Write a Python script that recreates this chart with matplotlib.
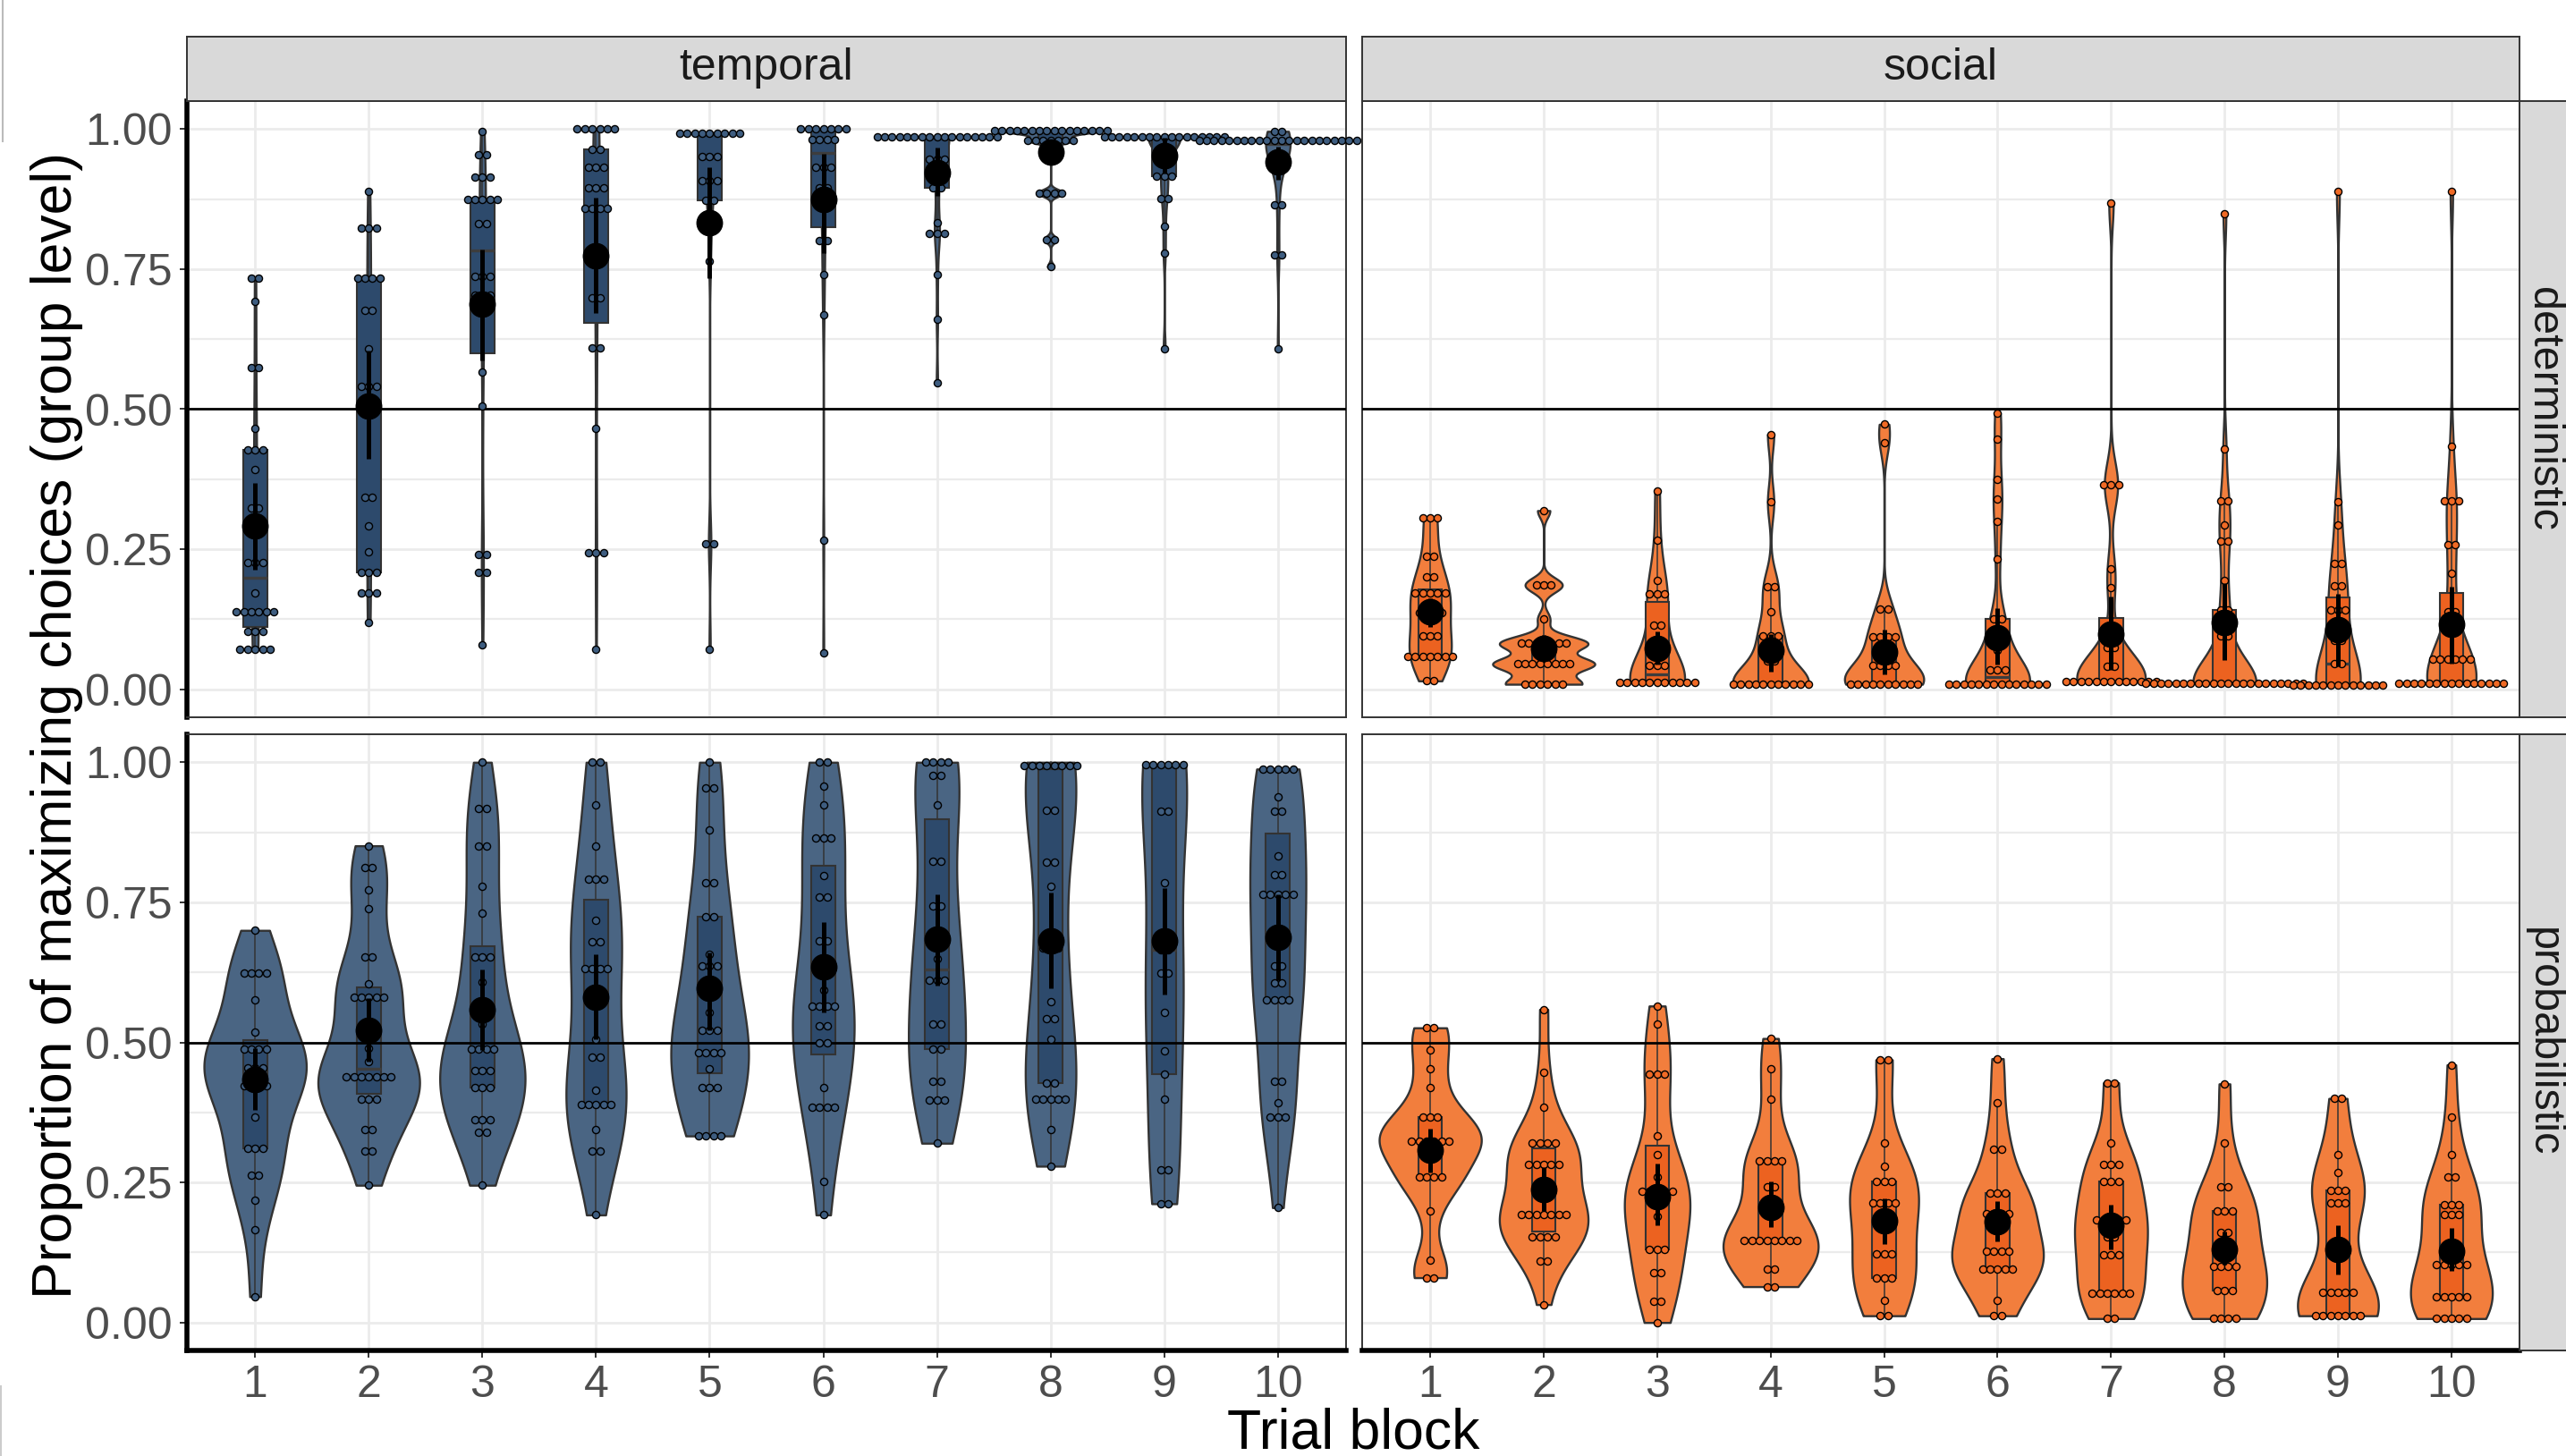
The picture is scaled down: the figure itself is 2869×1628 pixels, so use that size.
import numpy as np
import matplotlib
matplotlib.use("Agg")
import matplotlib.pyplot as plt
from matplotlib.lines import Line2D

plt.rcParams["font.family"] = ["Liberation Sans", "DejaVu Sans"]

W, H, DPI = 2869, 1628, 100

BLOCKS = list(range(1, 11))
Y_TICKS = [0.0, 0.25, 0.5, 0.75, 1.0]
Y_TICK_LABELS = ["0.00", "0.25", "0.50", "0.75", "1.00"]
COLS = ["temporal", "social"]
ROWS = ["deterministic", "probabilistic"]

# ── per-participant proportions, one list per trial block ────────────────────
TEMPORAL_DET = [
    [0.734, 0.734, 0.693, 0.574, 0.574, 0.466, 0.427, 0.427, 0.427, 0.392, 0.323, 0.323,
     0.226, 0.226, 0.226, 0.172, 0.139, 0.139, 0.139, 0.139, 0.139, 0.139,
     0.103, 0.103, 0.103, 0.072, 0.072, 0.072, 0.072, 0.072],
    [0.888, 0.824, 0.824, 0.824, 0.734, 0.734, 0.734, 0.734, 0.677, 0.677, 0.607,
     0.541, 0.541, 0.541, 0.343, 0.343, 0.292, 0.246, 0.209, 0.209, 0.209,
     0.172, 0.172, 0.172, 0.119],
    [0.996, 0.955, 0.955, 0.915, 0.915, 0.915, 0.875, 0.875, 0.875, 0.875, 0.875,
     0.831, 0.831, 0.737, 0.737, 0.737, 0.704, 0.704, 0.704, 0.566, 0.506,
     0.240, 0.240, 0.209, 0.209, 0.079],
    [1.0, 1.0, 1.0, 1.0, 1.0, 1.0, 0.963, 0.963, 0.932, 0.932, 0.932, 0.895, 0.895, 0.895,
     0.858, 0.858, 0.858, 0.858, 0.698, 0.698, 0.610, 0.610, 0.466,
     0.244, 0.244, 0.244, 0.072],
    [0.992, 0.992, 0.992, 0.992, 0.992, 0.992, 0.992, 0.992, 0.992, 0.951, 0.951, 0.951,
     0.908, 0.908, 0.908, 0.872, 0.872, 0.820, 0.764, 0.260, 0.260, 0.072],
    [1.0, 1.0, 1.0, 1.0, 1.0, 1.0, 1.0, 0.982, 0.982, 0.982, 0.982, 0.932, 0.932, 0.932,
     0.895, 0.895, 0.801, 0.801, 0.741, 0.668, 0.266, 0.065],
    [0.986, 0.986, 0.986, 0.986, 0.986, 0.986, 0.986, 0.986, 0.986, 0.986, 0.986, 0.986,
     0.986, 0.986, 0.986, 0.986, 0.986, 0.947, 0.947, 0.947, 0.895, 0.895, 0.833,
     0.813, 0.813, 0.813, 0.740, 0.660, 0.547],
    [0.998, 0.998, 0.998, 0.998, 0.998, 0.998, 0.998, 0.998, 0.998, 0.998, 0.998, 0.998,
     0.998, 0.998, 0.998, 0.998, 0.980, 0.980, 0.980, 0.980, 0.980, 0.980, 0.980,
     0.886, 0.886, 0.886, 0.886, 0.803, 0.803, 0.754],
    [0.986, 0.986, 0.986, 0.986, 0.986, 0.986, 0.986, 0.986, 0.986, 0.986, 0.986, 0.986,
     0.986, 0.986, 0.986, 0.986, 0.986, 0.916, 0.916, 0.916, 0.876, 0.876, 0.826, 0.779,
     0.607],
    [0.996, 0.996, 0.985, 0.985, 0.985, 0.985, 0.973, 0.973, 0.973, 0.973, 0.973, 0.973,
     0.973, 0.973, 0.973, 0.973, 0.973, 0.973, 0.973, 0.973, 0.973, 0.973, 0.973, 0.973,
     0.934, 0.934, 0.865, 0.865, 0.776, 0.776, 0.607],
]

SOCIAL_DET = [
    [0.306, 0.306, 0.306, 0.238, 0.238, 0.200, 0.200, 0.172, 0.172, 0.172, 0.172, 0.172,
     0.136, 0.136, 0.136, 0.136, 0.095, 0.095, 0.095, 0.059, 0.059, 0.059, 0.059, 0.059,
     0.059, 0.059, 0.015, 0.015],
    [0.319, 0.186, 0.186, 0.186, 0.125, 0.082, 0.082, 0.082, 0.082, 0.082, 0.082, 0.082,
     0.045, 0.045, 0.045, 0.045, 0.045, 0.045, 0.045, 0.045,
     0.009, 0.009, 0.009, 0.009, 0.009, 0.009],
    [0.354, 0.266, 0.194, 0.170, 0.170, 0.170, 0.115, 0.115, 0.042, 0.042, 0.042,
     0.012, 0.012, 0.012, 0.012, 0.012, 0.012, 0.012, 0.012, 0.012, 0.012, 0.012],
    [0.455, 0.334, 0.183, 0.183, 0.139, 0.095, 0.095, 0.095, 0.051, 0.051,
     0.009, 0.009, 0.009, 0.009, 0.009, 0.009, 0.009, 0.009, 0.009, 0.009, 0.009],
    [0.473, 0.440, 0.143, 0.143, 0.093, 0.093, 0.093, 0.093, 0.042, 0.042, 0.042, 0.042,
     0.009, 0.009, 0.009, 0.009, 0.009, 0.009, 0.009, 0.009, 0.009, 0.009],
    [0.493, 0.446, 0.374, 0.339, 0.299, 0.233, 0.125, 0.125, 0.100, 0.090, 0.070,
     0.034, 0.034, 0.034, 0.009, 0.009, 0.009, 0.009, 0.009, 0.009, 0.009, 0.009,
     0.009, 0.009, 0.009, 0.009, 0.009, 0.009],
    [0.868, 0.365, 0.365, 0.365, 0.215, 0.182, 0.074, 0.074, 0.041, 0.041,
     0.014, 0.014, 0.014, 0.014, 0.014, 0.014, 0.014, 0.014, 0.014, 0.014, 0.014, 0.014,
     0.014],
    [0.849, 0.429, 0.337, 0.337, 0.294, 0.264, 0.264, 0.195, 0.142, 0.142,
     0.095, 0.095, 0.011, 0.011, 0.011, 0.011, 0.011, 0.011, 0.011, 0.011, 0.011, 0.011,
     0.011, 0.011, 0.011, 0.011, 0.011, 0.011, 0.011, 0.011, 0.011, 0.011, 0.011, 0.011],
    [0.888, 0.335, 0.294, 0.224, 0.224, 0.185, 0.185, 0.142, 0.142, 0.142, 0.088, 0.088,
     0.046, 0.046, 0.008, 0.008, 0.008, 0.008, 0.008, 0.008, 0.008, 0.008, 0.008, 0.008,
     0.008, 0.008, 0.008],
    [0.888, 0.434, 0.337, 0.337, 0.337, 0.258, 0.258, 0.207, 0.138, 0.138,
     0.054, 0.054, 0.054, 0.054, 0.054, 0.054,
     0.011, 0.011, 0.011, 0.011, 0.011, 0.011, 0.011, 0.011, 0.011, 0.011, 0.011, 0.011,
     0.011, 0.011, 0.011],
]

TEMPORAL_PROB = [
    [0.700, 0.624, 0.624, 0.624, 0.624, 0.576, 0.519, 0.488, 0.488, 0.488, 0.488,
     0.455, 0.455, 0.455, 0.423, 0.423, 0.423, 0.423, 0.366, 0.311, 0.311, 0.311,
     0.263, 0.263, 0.219, 0.166, 0.046],
    [0.851, 0.812, 0.812, 0.773, 0.738, 0.652, 0.652, 0.604, 0.581, 0.581, 0.581, 0.581,
     0.581, 0.489, 0.466, 0.439, 0.439, 0.439, 0.439, 0.439, 0.439, 0.439,
     0.398, 0.398, 0.398, 0.345, 0.345, 0.306, 0.306, 0.245],
    [1.0, 0.918, 0.918, 0.851, 0.851, 0.778, 0.731, 0.652, 0.652, 0.652, 0.608, 0.532,
     0.488, 0.488, 0.488, 0.488, 0.449, 0.449, 0.449, 0.419, 0.419, 0.419,
     0.362, 0.362, 0.362, 0.339, 0.339, 0.245],
    [1.0, 1.0, 0.924, 0.851, 0.791, 0.791, 0.791, 0.718, 0.679, 0.679, 0.632, 0.632,
     0.632, 0.632, 0.505, 0.473, 0.473, 0.414, 0.389, 0.389, 0.389, 0.389, 0.389,
     0.345, 0.306, 0.306, 0.192],
    [1.0, 0.955, 0.955, 0.879, 0.785, 0.785, 0.725, 0.725, 0.657, 0.636, 0.636, 0.636,
     0.554, 0.522, 0.522, 0.522, 0.482, 0.482, 0.482, 0.482, 0.453, 0.419, 0.419, 0.419,
     0.333, 0.333, 0.333, 0.333],
    [1.0, 1.0, 0.957, 0.924, 0.865, 0.865, 0.865, 0.798, 0.759, 0.759, 0.682, 0.682,
     0.593, 0.565, 0.565, 0.565, 0.565, 0.530, 0.530, 0.499, 0.499, 0.419,
     0.385, 0.385, 0.385, 0.385, 0.252, 0.192],
    [1.0, 1.0, 1.0, 1.0, 0.977, 0.977, 0.924, 0.824, 0.824, 0.744, 0.744, 0.680, 0.650,
     0.611, 0.611, 0.611, 0.533, 0.533, 0.488, 0.488, 0.431, 0.431, 0.397, 0.397, 0.397,
     0.320],
    [1.0, 1.0, 1.0, 0.988, 0.988, 0.988, 0.988, 0.988, 0.915, 0.915, 0.821, 0.821, 0.778,
     0.668, 0.668, 0.668, 0.572, 0.542, 0.542, 0.506, 0.428, 0.428,
     0.398, 0.398, 0.398, 0.398, 0.398, 0.345, 0.279],
    [0.996, 0.996, 0.996, 0.996, 0.996, 0.996, 0.912, 0.912, 0.785, 0.665, 0.665,
     0.623, 0.623, 0.553, 0.485, 0.444, 0.398, 0.272, 0.272, 0.212, 0.212],
    [0.988, 0.988, 0.988, 0.988, 0.988, 0.938, 0.912, 0.912, 0.833, 0.800, 0.800,
     0.765, 0.765, 0.765, 0.765, 0.765, 0.636, 0.636, 0.606, 0.606,
     0.576, 0.576, 0.576, 0.576, 0.431, 0.431, 0.392, 0.366, 0.366, 0.366, 0.205],
]

SOCIAL_PROB = [
    [0.526, 0.526, 0.487, 0.453, 0.419, 0.366, 0.366, 0.366, 0.323, 0.323, 0.323, 0.323,
     0.323, 0.323, 0.259, 0.259, 0.259, 0.259, 0.199, 0.112, 0.080, 0.080],
    [0.559, 0.446, 0.385, 0.320, 0.320, 0.320, 0.320, 0.282, 0.282, 0.282, 0.282, 0.282,
     0.192, 0.192, 0.192, 0.192, 0.192, 0.192, 0.192, 0.153, 0.153, 0.153, 0.153,
     0.109, 0.109, 0.032],
    [0.565, 0.532, 0.444, 0.444, 0.444, 0.333, 0.299, 0.260, 0.240, 0.227, 0.227, 0.227,
     0.227, 0.210, 0.190, 0.131, 0.131, 0.131, 0.089, 0.089, 0.038, 0.038, 0.0],
    [0.507, 0.453, 0.398, 0.289, 0.289, 0.289, 0.289, 0.242, 0.242,
     0.146, 0.146, 0.146, 0.146, 0.146, 0.146, 0.146, 0.146, 0.096, 0.096, 0.064, 0.064],
    [0.469, 0.469, 0.320, 0.279, 0.252, 0.252, 0.252, 0.213, 0.213, 0.213, 0.213,
     0.122, 0.122, 0.122, 0.080, 0.080, 0.080, 0.039, 0.012, 0.012],
    [0.471, 0.392, 0.309, 0.309, 0.231, 0.231, 0.231, 0.195, 0.195, 0.195, 0.195,
     0.128, 0.128, 0.128, 0.128, 0.096, 0.096, 0.096, 0.096, 0.096, 0.039, 0.012, 0.012],
    [0.428, 0.428, 0.320, 0.282, 0.282, 0.282, 0.252, 0.252, 0.252, 0.183, 0.183, 0.183,
     0.183, 0.183, 0.153, 0.153, 0.121, 0.121, 0.121, 0.052, 0.052, 0.052, 0.052, 0.052,
     0.052, 0.007, 0.007],
    [0.426, 0.320, 0.242, 0.242, 0.199, 0.199, 0.199, 0.160, 0.160, 0.100, 0.100, 0.100,
     0.100, 0.057, 0.057, 0.057, 0.007, 0.007, 0.007, 0.007],
    [0.400, 0.400, 0.300, 0.267, 0.236, 0.236, 0.236, 0.213, 0.213, 0.213,
     0.053, 0.053, 0.053, 0.053, 0.053, 0.012, 0.012, 0.012, 0.012, 0.012, 0.012, 0.012],
    [0.460, 0.367, 0.300, 0.259, 0.259, 0.210, 0.210, 0.210, 0.192, 0.192, 0.192,
     0.104, 0.104, 0.104, 0.104, 0.104, 0.045, 0.045, 0.045, 0.045, 0.045,
     0.007, 0.007, 0.007, 0.007, 0.007],
]

# ── group-level estimate and interval per block ──────────────────────────────
TD_MEAN = [0.292, 0.506, 0.687, 0.774, 0.833, 0.875, 0.923, 0.959, 0.952, 0.941]
TD_LO   = [0.213, 0.412, 0.587, 0.671, 0.734, 0.778, 0.881, 0.937, 0.920, 0.909]
TD_HI   = [0.368, 0.605, 0.785, 0.877, 0.932, 0.956, 0.967, 0.977, 0.984, 0.969]

SD_MEAN = [0.139, 0.073, 0.073, 0.070, 0.066, 0.092, 0.098, 0.120, 0.107, 0.116]
SD_LO   = [0.112, 0.051, 0.044, 0.031, 0.026, 0.044, 0.034, 0.052, 0.041, 0.046]
SD_HI   = [0.163, 0.097, 0.104, 0.099, 0.106, 0.145, 0.165, 0.189, 0.171, 0.183]

TP_MEAN = [0.434, 0.522, 0.558, 0.581, 0.596, 0.635, 0.684, 0.682, 0.682, 0.687]
TP_LO   = [0.380, 0.466, 0.487, 0.505, 0.522, 0.554, 0.602, 0.597, 0.586, 0.611]
TP_HI   = [0.490, 0.579, 0.630, 0.657, 0.661, 0.714, 0.765, 0.768, 0.775, 0.764]

SP_MEAN = [0.308, 0.238, 0.224, 0.206, 0.181, 0.180, 0.173, 0.131, 0.130, 0.128]
SP_LO   = [0.268, 0.199, 0.174, 0.171, 0.140, 0.144, 0.131, 0.104, 0.085, 0.092]
SP_HI   = [0.346, 0.277, 0.284, 0.252, 0.222, 0.217, 0.210, 0.163, 0.173, 0.168]

# ── colours ──────────────────────────────────────────────────────────────────
C_TEMP_VIOLIN = "#4a6583"
C_TEMP_BOX    = "#2d4a6c"
C_TEMP_DOT    = "#3e5d80"
C_SOC_VIOLIN  = "#f27e3d"
C_SOC_BOX     = "#ec6220"
C_SOC_DOT     = "#f06a25"
C_EDGE        = "#333333"
C_GRID        = "#ebebeb"
C_STRIP       = "#d9d9d9"

DOT_BIN = 0.013     # y bin width for dot stacking
DOT_DX  = 0.066     # horizontal spacing of stacked dots (x units)


def bw_nrd0(x):
    x = np.asarray(x, float)
    sd = x.std(ddof=1)
    q75, q25 = np.percentile(x, [75, 25])
    lo = min(sd, (q75 - q25) / 1.34)
    if lo <= 0:
        lo = sd if sd > 0 else 1.0
    return 0.9 * lo * len(x) ** -0.2


def density(x):
    x = np.asarray(x, float)
    bw = bw_nrd0(x)
    grid = np.linspace(x.min(), x.max(), 512)
    z = (grid[:, None] - x[None, :]) / bw
    d = np.exp(-0.5 * z ** 2).sum(axis=1) / (len(x) * bw * np.sqrt(2 * np.pi))
    return grid, d


def dot_bins(vals):
    v = np.sort(np.asarray(vals, float))
    centers, counts = [], []
    i = 0
    while i < len(v):
        j = i
        while j + 1 < len(v) and v[j + 1] < v[i] + DOT_BIN:
            j += 1
        centers.append((v[i] + v[j]) / 2)
        counts.append(j - i + 1)
        i = j + 1
    return centers, counts


def px_rect(x0, y0, x1, y1):
    return [x0 / W, 1 - y1 / H, (x1 - x0) / W, (y1 - y0) / H]


def draw_panel(ax, groups, means, lo, hi, c_violin, c_box, c_dot):
    # violins, scaled by area across the panel
    dens = [density(g) for g in groups]
    dmax = max(d.max() for _, d in dens)
    for x, (grid, d) in zip(BLOCKS, dens):
        hw = 0.45 * d / dmax
        ax.fill_betweenx(grid, x - hw, x + hw, facecolor=c_violin,
                         edgecolor=C_EDGE, linewidth=1.7, zorder=2)

    ax.boxplot(groups, positions=BLOCKS, widths=0.21, patch_artist=True,
               showfliers=False, showcaps=False, manage_ticks=False,
               boxprops=dict(facecolor=c_box, edgecolor=C_EDGE, linewidth=1.5),
               whiskerprops=dict(color=C_EDGE, linewidth=1.1),
               medianprops=dict(color="#3d3d3d", linewidth=2.4),
               zorder=3)

    ax.axhline(0.5, color="black", linewidth=2.0, zorder=3.5)

    xs, ys = [], []
    for x, g in zip(BLOCKS, groups):
        centers, counts = dot_bins(g)
        for c, n in zip(centers, counts):
            for k in range(n):
                xs.append(x + (k - (n - 1) / 2) * DOT_DX)
                ys.append(c)
    ax.scatter(xs, ys, s=34, facecolor=c_dot, edgecolor="black",
               linewidth=1.0, zorder=4, clip_on=False)

    ax.vlines(BLOCKS, lo, hi, color="black", linewidth=3.6, zorder=5)
    ax.scatter(BLOCKS, means, s=420, color="black", zorder=6)

    ax.set_xlim(0.4, 10.6)
    ax.set_ylim(-0.05, 1.05)
    ax.set_xticks(BLOCKS)
    ax.set_xticklabels([str(b) for b in BLOCKS])
    ax.set_yticks(Y_TICKS)
    ax.set_yticklabels(Y_TICK_LABELS)
    ax.set_yticks([0.125, 0.375, 0.625, 0.875], minor=True)
    ax.tick_params(which="minor", length=0)
    ax.grid(True, which="major", color=C_GRID, linewidth=2.0, zorder=0)
    ax.grid(True, which="minor", axis="y", color=C_GRID, linewidth=1.6, zorder=0)
    ax.set_axisbelow(True)
    ax.tick_params(which="major", length=5.8, width=1.4, color=C_EDGE,
                   labelsize=36, labelcolor="#4d4d4d", pad=6)
    for sp in ax.spines.values():
        sp.set_color(C_EDGE)
        sp.set_linewidth(1.4)


fig = plt.figure(figsize=(W / DPI, H / DPI), dpi=DPI)

PANEL_X = [(209, 1505), (1523, 2817)]
PANEL_Y = [(113, 802), (821, 1510)]

PANELS = [
    [(TEMPORAL_DET, TD_MEAN, TD_LO, TD_HI), (SOCIAL_DET, SD_MEAN, SD_LO, SD_HI)],
    [(TEMPORAL_PROB, TP_MEAN, TP_LO, TP_HI), (SOCIAL_PROB, SP_MEAN, SP_LO, SP_HI)],
]
STYLES = [(C_TEMP_VIOLIN, C_TEMP_BOX, C_TEMP_DOT), (C_SOC_VIOLIN, C_SOC_BOX, C_SOC_DOT)]

for r in range(2):
    for c in range(2):
        x0, x1 = PANEL_X[c]
        y0, y1 = PANEL_Y[r]
        ax = fig.add_axes(px_rect(x0, y0, x1, y1))
        groups, means, lo, hi = PANELS[r][c]
        draw_panel(ax, groups, means, lo, hi, *STYLES[c])
        if c == 0:
            ax.spines["left"].set_color("black")
            ax.spines["left"].set_linewidth(4.0)
        else:
            ax.tick_params(axis="y", which="both", left=False, labelleft=False)
        if r == 1:
            ax.spines["bottom"].set_color("black")
            ax.spines["bottom"].set_linewidth(4.0)
        else:
            ax.tick_params(axis="x", which="both", bottom=False, labelbottom=False)

# strips
for c, label in enumerate(COLS):
    x0, x1 = PANEL_X[c]
    sax = fig.add_axes(px_rect(x0, 41, x1, 113))
    sax.set_facecolor(C_STRIP)
    sax.set_xticks([])
    sax.set_yticks([])
    for sp in sax.spines.values():
        sp.set_color(C_EDGE)
        sp.set_linewidth(1.4)
    sax.text(0.5, 0.52, label, transform=sax.transAxes, ha="center", va="center",
             fontsize=36, color="#1a1a1a")

for r, label in enumerate(ROWS):
    y0, y1 = PANEL_Y[r]
    sax = fig.add_axes(px_rect(2817, y0, 2889, y1))
    sax.set_facecolor(C_STRIP)
    sax.set_xticks([])
    sax.set_yticks([])
    for sp in sax.spines.values():
        sp.set_color(C_EDGE)
        sp.set_linewidth(1.4)
    fig.text(2831 / W, 1 - (y0 + y1) / 2 / H, label, rotation=-90,
             rotation_mode="anchor", ha="center", va="baseline",
             fontsize=35, color="#1a1a1a")

fig.text(64 / W, 1 - 811 / H, "Proportion of maximizing choices (group level)",
         rotation=90, ha="center", va="center", fontsize=45, color="black")
fig.text(1513 / W, 1 - 1620 / H, "Trial block", ha="center", va="baseline",
         fontsize=45, color="black")

# faint frame remnants at the left edge of the screenshot
fig.add_artist(Line2D([3 / W, 3 / W], [1, 1 - 158 / H], color="#bbbbbb", linewidth=1.5))
fig.add_artist(Line2D([1 / W, 1 / W], [1 - 1550 / H, 0], color="#cccccc", linewidth=1.5))

fig.savefig("out.png", dpi=DPI)
